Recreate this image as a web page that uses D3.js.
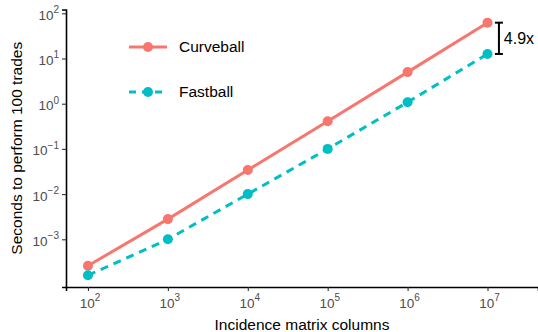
<!DOCTYPE html>
<html>
<head>
<meta charset="utf-8">
<script src="https://cdn.jsdelivr.net/npm/d3@7"></script>
<style>
  body { margin: 0; background: #fff; }
  text { font-family: "Liberation Sans", Arial, sans-serif; }
</style>
</head>
<body>
<div id="chart"></div>
<script>
// matrix columns (x) and seconds per 100 trades (y)
let columns = [1e2, 1e3, 1e4, 1e5, 1e6, 1e7];
let curveball = [2.6e-4, 2.8e-3, 0.034, 0.41, 5.0, 62];
let fastball = [1.6e-4, 1.0e-3, 0.010, 0.10, 1.08, 12.6];
let seriesNames = ["Curveball", "Fastball"];
let xTicks = [2, 3, 4, 5, 6, 7];
let yTicks = [-3, -2, -1, 0, 1, 2];
let speedup = "4.9x";

let w = 538, h = 332;
let m = {top: 9.5, right: 0, bottom: 45, left: 66};

let svg = d3.select("#chart")
  .append("svg")
  .attr("width", w)
  .attr("height", h);

let x = d3.scaleLog()
  .domain([Math.pow(10, 1.725), Math.pow(10, 7.632)])
  .range([m.left, w - m.right]);

let y = d3.scaleLog()
  .domain([Math.pow(10, -4.055), Math.pow(10, 2.084)])
  .range([h - m.bottom, m.top]);

let colors = {Curveball: "#F8766D", Fastball: "#00BFC4"};
let dashes = {Curveball: null, Fastball: "8,6"};

let data = [
  {name: "Curveball", values: columns.map((c, i) => ({x: c, y: curveball[i]}))},
  {name: "Fastball", values: columns.map((c, i) => ({x: c, y: fastball[i]}))}
];

// axes
let xAxis = svg.append("g")
  .attr("transform", "translate(0," + (h - m.bottom) + ")")
  .call(d3.axisBottom(x).tickValues(xTicks.map(p => Math.pow(10, p))).tickSize(4).tickFormat(""));
xAxis.select(".domain").attr("stroke", "#000").attr("stroke-width", 1.6);
xAxis.selectAll(".tick line").attr("stroke", "#333").attr("stroke-width", 1.1);

let yAxis = svg.append("g")
  .attr("transform", "translate(" + m.left + ",0)")
  .call(d3.axisLeft(y).tickValues(yTicks.map(p => Math.pow(10, p))).tickSize(4).tickFormat(""));
yAxis.select(".domain").attr("stroke", "#000").attr("stroke-width", 1.6);
yAxis.selectAll(".tick line").attr("stroke", "#333").attr("stroke-width", 1.1);

// power-of-ten tick labels
xTicks.forEach((p) => {
  let t = svg.append("text")
    .attr("x", x(Math.pow(10, p)) + 2)
    .attr("y", 307.5)
    .attr("text-anchor", "middle")
    .attr("fill", "#4D4D4D")
    .style("font-size", "13.5px");
  t.append("tspan").text("10");
  t.append("tspan").attr("dy", -6.5).style("font-size", "10px").text(p);
});

yTicks.forEach((p) => {
  let t = svg.append("text")
    .attr("x", 59)
    .attr("y", y(Math.pow(10, p)) + 6.5)
    .attr("text-anchor", "end")
    .attr("fill", "#4D4D4D")
    .style("font-size", "13.5px");
  t.append("tspan").text("10");
  t.append("tspan").attr("dy", -6.5).style("font-size", "10px").text(p < 0 ? "\u2212" + (-p) : p);
});

// axis titles
svg.append("text")
  .attr("x", (m.left + w - m.right) / 2)
  .attr("y", 330)
  .attr("text-anchor", "middle")
  .style("font-size", "15.5px")
  .text("Incidence matrix columns");

svg.append("text")
  .attr("transform", "translate(22," + ((m.top + h - m.bottom) / 2) + ") rotate(-90)")
  .attr("text-anchor", "middle")
  .style("font-size", "15.5px")
  .text("Seconds to perform 100 trades");

// lines and points
let line = d3.line().x(d => x(d.x)).y(d => y(d.y));

data.forEach((s) => {
  svg.append("path")
    .datum(s.values)
    .attr("d", line)
    .attr("fill", "none")
    .attr("stroke", colors[s.name])
    .attr("stroke-width", 3)
    .attr("stroke-dasharray", dashes[s.name]);

  svg.selectAll(".pt-" + s.name)
    .data(s.values)
    .enter()
    .append("circle")
    .attr("cx", d => x(d.x))
    .attr("cy", d => y(d.y))
    .attr("r", 5)
    .attr("fill", colors[s.name]);
});

// speedup annotation
let ax = x(1.39e7);
let yTop = y(curveball[5]);
let yBot = y(fastball[5]);
let bar = svg.append("g").attr("stroke", "#000").attr("stroke-width", 2);
bar.append("line").attr("x1", ax).attr("x2", ax).attr("y1", yTop).attr("y2", yBot);
bar.append("line").attr("x1", ax - 4).attr("x2", ax + 4).attr("y1", yTop).attr("y2", yTop);
bar.append("line").attr("x1", ax - 4).attr("x2", ax + 4).attr("y1", yBot).attr("y2", yBot);

svg.append("text")
  .attr("x", x(1.6e7))
  .attr("y", (yTop + yBot) / 2)
  .attr("dy", "0.35em")
  .style("font-size", "16px")
  .text(speedup);

// legend
let legend = svg.append("g");
seriesNames.forEach((name, i) => {
  let ly = 47 + i * 45;
  legend.append("line")
    .attr("x1", 129).attr("x2", 167)
    .attr("y1", ly).attr("y2", ly)
    .attr("stroke", colors[name])
    .attr("stroke-width", 3)
    .attr("stroke-dasharray", name === "Fastball" ? "7,6" : null);
  legend.append("circle")
    .attr("cx", 148).attr("cy", ly).attr("r", 5)
    .attr("fill", colors[name]);
  legend.append("text")
    .attr("x", 179).attr("y", ly)
    .attr("dy", "0.35em")
    .style("font-size", "15.5px")
    .text(name);
});
</script>
</body>
</html>
